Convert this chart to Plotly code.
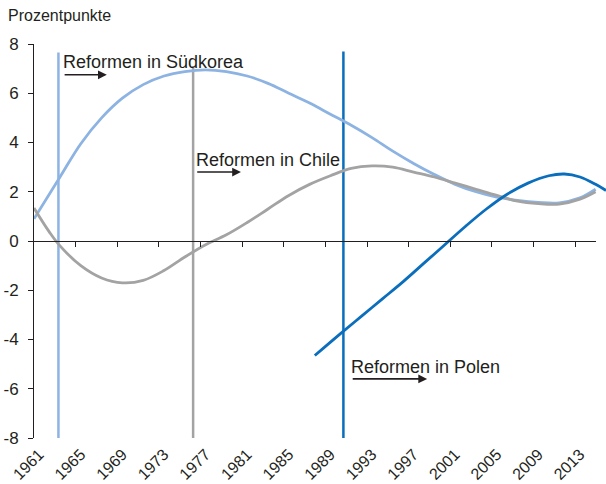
import plotly.graph_objects as go

# Growth differential (percentage points) after market reforms
years_kr = [1960.5, 1963, 1965, 1967, 1969, 1971, 1973, 1975, 1977, 1979, 1981, 1983,
            1985, 1987, 1989, 1991, 1993, 1995, 1997, 1999, 2001, 2003, 2005, 2007,
            2009, 2011, 2013, 2014.5]
korea = [0.9, 2.6, 3.95, 5.0, 5.8, 6.35, 6.7, 6.88, 6.95, 6.88, 6.7, 6.4,
         6.0, 5.6, 5.15, 4.7, 4.2, 3.65, 3.15, 2.7, 2.3, 2.0, 1.78, 1.65,
         1.57, 1.55, 1.75, 2.1]

years_cl = [1960.5, 1962, 1963, 1965, 1967, 1969, 1971, 1973, 1975, 1977, 1979, 1981,
            1983, 1985, 1987, 1989, 1991, 1993, 1995, 1997, 1999, 2001, 2003, 2005,
            2007, 2009, 2011, 2013, 2014.5]
chile = [1.34, 0.35, -0.2, -1.0, -1.5, -1.7, -1.6, -1.2, -0.65, -0.15, 0.25, 0.75,
         1.3, 1.85, 2.3, 2.65, 2.95, 3.05, 3.0, 2.8, 2.6, 2.35, 2.1, 1.85,
         1.62, 1.52, 1.5, 1.7, 2.0]

years_pl = [1987.5, 1990, 1992, 1994, 1996, 1998, 2000, 2002, 2004, 2006, 2008, 2010,
            2011.5, 2013, 2014.5, 2015.5]
poland = [-4.65, -3.75, -3.05, -2.35, -1.65, -0.9, -0.15, 0.6, 1.3, 1.9, 2.35, 2.65,
          2.72, 2.6, 2.3, 2.05]

# Reform start markers
reform_names = ["Reformen in Südkorea", "Reformen in Chile", "Reformen in Polen"]
reform_years = [1962.85, 1975.8, 1990.25]
reform_tops = [7.65, 7.1, 7.7]
label_pos = [(1963.3, 7.28), (1976.05, 3.3), (1991.0, -5.1)]
arrow_spans = [(1963.3, 1967.5, 6.75), (1976.05, 1980.4, 2.8), (1991.0, 1998.3, -5.6)]

tick_labels = list(range(1961, 2014, 4))
tick_bounds = [1964.5 + 4 * i for i in range(13)]
y_ticks = list(range(-8, 9, 2))

c_korea = "#8DB3E2"
c_chile = "#A3A3A3"
c_poland = "#0A6EBD"
ink = "#231F20"

fig = go.Figure()

line_colors = [c_korea, c_chile, c_poland]
for yr, top, col in zip(reform_years, reform_tops, line_colors):
    fig.add_trace(go.Scatter(x=[yr, yr], y=[-8, top], mode="lines",
                             line=dict(color=col, width=2.5), showlegend=False,
                             hoverinfo="skip"))

for xs, ys, col in [(years_kr, korea, c_korea), (years_cl, chile, c_chile),
                    (years_pl, poland, c_poland)]:
    fig.add_trace(go.Scatter(x=xs, y=ys, mode="lines",
                             line=dict(color=col, width=2.8, shape="spline", smoothing=1.0),
                             showlegend=False))

# carrier trace for the category axis drawn through zero
fig.add_trace(go.Scatter(x=[1961], y=[None], xaxis="x2", yaxis="y",
                         mode="markers", showlegend=False, hoverinfo="skip"))

for name, (lx, ly) in zip(reform_names, label_pos):
    fig.add_annotation(x=lx, y=ly, text=name, showarrow=False, xanchor="left",
                       yanchor="middle", xshift=-2,
                       font=dict(size=18, color=ink))

for x0, x1, ya in arrow_spans:
    fig.add_annotation(x=x1, y=ya, ax=x0, ay=ya, axref="x", ayref="y", text="",
                       showarrow=True, arrowhead=2, arrowsize=1.1, arrowwidth=1.6,
                       arrowcolor=ink, standoff=0, startstandoff=0)

fig.add_annotation(xref="paper", yref="paper", x=0, y=1, xanchor="left",
                   yanchor="middle", xshift=-28, yshift=29, text="Prozentpunkte",
                   showarrow=False, font=dict(size=16, color=ink))

fig.update_layout(
    width=606, height=484,
    margin=dict(l=34, r=0, t=44, b=46),
    paper_bgcolor="white", plot_bgcolor="rgba(0,0,0,0)",
    font=dict(family="Liberation Sans, Arial, sans-serif", color=ink),
    xaxis=dict(range=[1960.5, 2015.5], domain=[0, 1], tickvals=tick_labels,
               ticktext=[str(t) for t in tick_labels], tickangle=-45,
               showgrid=False, zeroline=False, showline=False, ticks="",
               ticklabelstandoff=3, automargin=False,
               tickfont=dict(size=16, color=ink)),
    xaxis2=dict(range=[1960.5, 2014.5], domain=[0, 562 / 572], anchor="free",
                position=0.5, showgrid=False, zeroline=False, showline=True,
                linecolor=ink, linewidth=1, ticks="outside", ticklen=5,
                tickcolor=ink, tickwidth=1, tickvals=tick_bounds,
                showticklabels=False),
    yaxis=dict(range=[-8, 8], tickvals=y_ticks, ticktext=[str(v) for v in y_ticks],
               showgrid=False, zeroline=False, automargin=False,
               showline=True, linecolor=ink, linewidth=1, ticks="outside",
               ticklen=5, tickcolor=ink, ticklabelstandoff=6,
               tickfont=dict(size=17, color=ink)),
)

fig.write_html("out.html")
